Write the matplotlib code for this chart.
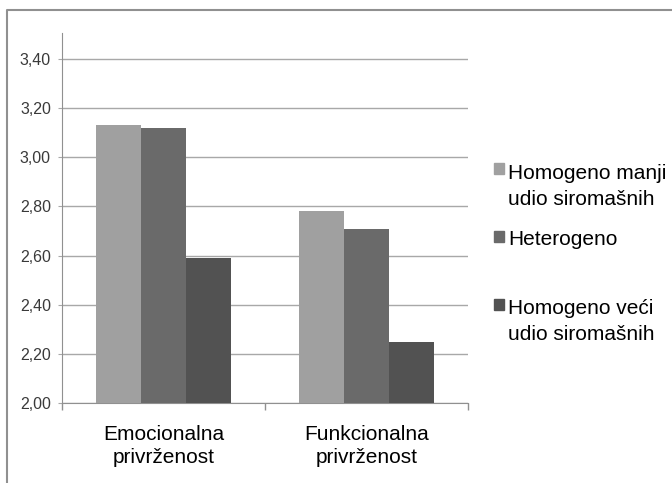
import matplotlib
matplotlib.use("Agg")
import matplotlib.pyplot as plt
from matplotlib.ticker import FixedLocator, FuncFormatter
from matplotlib.patches import Rectangle
from matplotlib.lines import Line2D
import numpy as np

plt.rcParams['font.family'] = ['Liberation Sans', 'DejaVu Sans']

categories = ["Emocionalna\nprivrženost", "Funkcionalna\nprivrženost"]
series = ["Homogeno manji\nudio siromašnih", "Heterogeno", "Homogeno veći\nudio siromašnih"]
values = [
    [3.13, 2.78],
    [3.12, 2.71],
    [2.59, 2.25],
]
colors = ["#a0a0a0", "#6a6a6a", "#525252"]
yticks = [2.0, 2.2, 2.4, 2.6, 2.8, 3.0, 3.2, 3.4]

fig = plt.figure(figsize=(6.72, 4.83), dpi=100)
ax = fig.add_axes([62/672, 1-403/483, (468-62)/672, (403-33)/483])

x = np.arange(len(categories))
w = 0.222
for i, (s, v) in enumerate(zip(series, values)):
    ax.bar(x + (i-1)*w, [vv - 2.0 for vv in v], bottom=2.0, width=w, color=colors[i],
           zorder=3, label=s)

ax.set_xlim(-0.5, len(categories)-0.5)
ax.set_ylim(2.0, 3.506)
ax.yaxis.set_major_locator(FixedLocator(yticks))
ax.yaxis.set_major_formatter(FuncFormatter(lambda v, p: ('%.2f' % v).replace('.', ',')))
ax.grid(axis='y', color='#a8a8a8', lw=1, zorder=0)

ax.set_xticks(x)
ax.set_xticklabels(categories, fontsize=15, linespacing=1.25)
ax.tick_params(axis='x', length=0, pad=16)
ax.set_xticks([-0.5, 0.5, 1.5], minor=True)
ax.tick_params(axis='x', which='minor', length=5, color='#909090', width=1)
ax.tick_params(axis='y', length=3, color='#a8a8a8', labelsize=11.5, labelcolor='#3a3a3a', pad=5)

for sp in ['top', 'right']:
    ax.spines[sp].set_visible(False)
ax.spines['left'].set_color('#909090')
ax.spines['bottom'].set_color('#909090')

# legend drawn by hand (uneven spacing as in the original)
sq_top = [163, 231, 299]
last_base = [205, 245, 340]
for i, s in enumerate(series):
    fig.patches.append(Rectangle((494/672, 1 - (sq_top[i] + 11)/483), 10/672, 11/483,
                                 transform=fig.transFigure, color=colors[i]))
    fig.text(508/672, 1 - last_base[i]/483, s, fontsize=15, va='baseline', ha='left',
             linespacing=1.47)

# outer chart border
fig.lines.append(Line2D([7/672, 7/672, 1.0], [0, 1-10/483, 1-10/483],
                        transform=fig.transFigure, color='#909090', lw=1.5))

fig.savefig("out.png", dpi=100)
